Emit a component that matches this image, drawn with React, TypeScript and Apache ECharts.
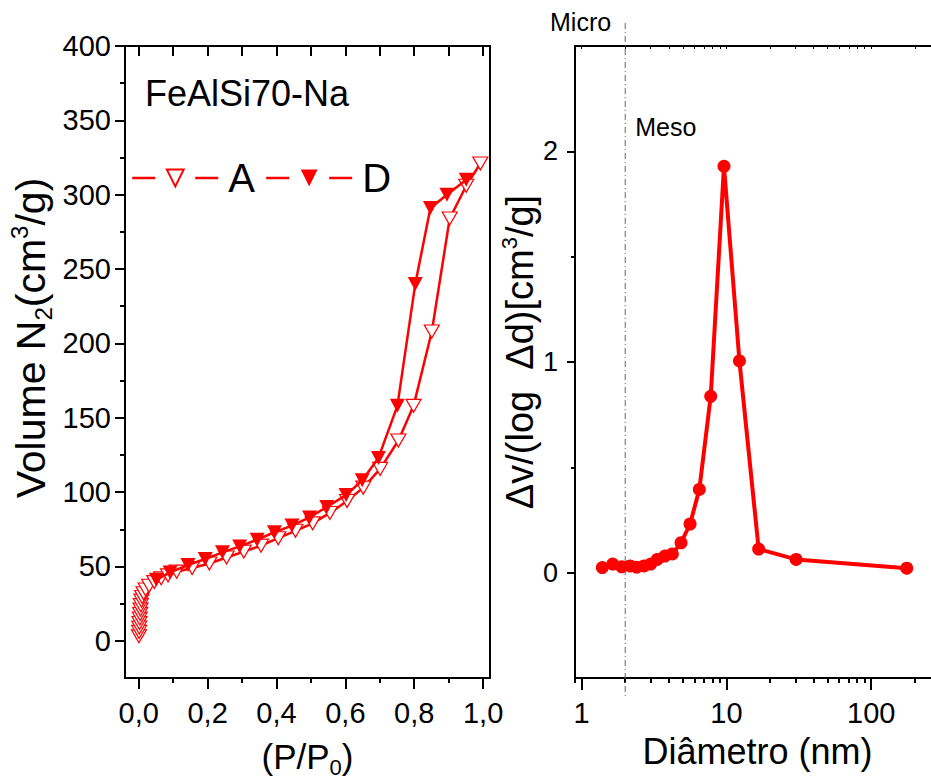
import React, { useEffect, useRef } from 'react';
import * as echarts from 'echarts';

const FONT = 'Liberation Sans, Arial, Helvetica, sans-serif';

// Left panel: N2 isotherm (relative pressure P/P0, volume cm3/g)
const adsorptionA: [number, number][] = [
  [0.0005, 3], [0.001, 6], [0.0015, 9], [0.002, 12], [0.003, 15], [0.004, 18],
  [0.005, 21], [0.006, 24], [0.008, 27], [0.01, 29.5], [0.014, 32], [0.02, 34.5],
  [0.03, 37], [0.045, 39.5], [0.065, 42], [0.085, 44], [0.11, 46.5], [0.155, 49],
  [0.205, 52], [0.255, 56], [0.305, 60], [0.355, 64], [0.405, 69], [0.455, 74],
  [0.505, 79], [0.555, 86], [0.605, 94], [0.652, 103], [0.701, 115.6], [0.754, 134.7],
  [0.798, 158], [0.851, 208], [0.903, 284], [0.951, 306], [0.992, 321],
];
const desorptionD: [number, number][] = [
  [0.951, 310], [0.895, 300], [0.847, 291], [0.803, 240], [0.751, 158], [0.696, 123],
  [0.649, 108], [0.602, 98], [0.546, 90], [0.496, 83], [0.445, 77.5], [0.394, 73],
  [0.344, 68], [0.293, 63.5], [0.243, 59.5], [0.193, 55], [0.143, 51], [0.091, 46],
  [0.051, 41],
];
const leftXTicks = [0, 0.2, 0.4, 0.6, 0.8, 1.0];
const leftXMinor = [0.1, 0.3, 0.5, 0.7, 0.9];
const leftXTop = [0, 0.1, 0.2, 0.3, 0.4, 0.5, 0.6, 0.7, 0.8, 0.9, 1.0];
const leftYTicks = [0, 50, 100, 150, 200, 250, 300, 350, 400];
const leftYMinor = [25, 75, 125, 175, 225, 275, 325, 375];

// Right panel: pore size distribution
const poreDiameter = [1.39, 1.64, 1.89, 2.16, 2.4, 2.7, 3.0, 3.33, 3.76, 4.23, 4.86, 5.61, 6.5, 7.79, 9.62, 12.3, 16.7, 30.3, 176];
const poreDistribution = [0.024, 0.041, 0.028, 0.032, 0.026, 0.032, 0.041, 0.063, 0.079, 0.089, 0.142, 0.231, 0.395, 0.837, 1.929, 1.005, 0.112, 0.063, 0.021];
const rightXTicks = [1, 10, 100];
const rightXMinor = [0.9, 2, 3, 4, 5, 6, 7, 8, 9, 20, 30, 40, 50, 60, 70, 80, 90, 200, 300, 400, 500, 600, 700, 800, 900];
const rightYTicks = [0, 1, 2];
const rightYMinor = [0.5, 1.5];
const microMesoLimit = 2;

const lg = (v: number) => Math.log10(v);
const black = { color: '#000', width: 2 };

export default function App() {
  const ref = useRef<HTMLDivElement>(null);
  useEffect(() => {
    if (!ref.current) return;
    const chart = echarts.init(ref.current, undefined, { renderer: 'svg' });
    const labelStyle = { color: '#000', fontFamily: FONT, fontSize: 29 };
    const option: any = {
      animation: false,
      backgroundColor: '#fff',
      title: {
        text: 'FeAlSi70-Na', left: 145, top: 75, padding: 0,
        textStyle: { fontSize: 36, fontWeight: 'normal', color: '#000', fontFamily: FONT },
      },
      legend: {
        data: ['A', 'D'], left: 131, top: 158, padding: 0,
        itemWidth: 86, itemHeight: 21, itemGap: 10,
        lineStyle: { type: [23, 40], width: 2.5 },
        textStyle: { fontSize: 40, color: '#000', fontFamily: FONT, padding: [0, 0, 0, 5] },
      },
      grid: [
        { left: 125, top: 46, width: 365, height: 632, outerBoundsMode: 'none' },
        { left: 575, top: 46, width: 441, height: 632, outerBoundsMode: 'none' },
      ],
      xAxis: [
        {
          type: 'value', gridIndex: 0, position: 'bottom', min: -0.04, max: 1.02,
          axisLine: { show: true, onZero: false, lineStyle: black },
          axisTick: { show: true, customValues: leftXTicks, length: 11, lineStyle: black },
          axisLabel: { customValues: leftXTicks, margin: 20, ...labelStyle, formatter: (v: number) => v.toFixed(1).replace('.', ',') },
          splitLine: { show: false },
          name: '{b|(P/P}{sub|0}{b|)}', nameLocation: 'middle', nameGap: 56,
          nameTextStyle: {
            rich: {
              b: { fontSize: 35, lineHeight: 44, fontFamily: FONT, color: '#000' },
              sub: { fontSize: 22, lineHeight: 18, verticalAlign: 'bottom', fontFamily: FONT, color: '#000' },
            },
          },
        },
        {
          type: 'value', gridIndex: 0, position: 'bottom', min: -0.04, max: 1.02,
          axisLine: { show: false, onZero: false },
          axisTick: { show: true, customValues: leftXMinor, length: 5, lineStyle: black },
          axisLabel: { show: false }, splitLine: { show: false },
        },
        {
          type: 'value', gridIndex: 0, position: 'top', min: -0.04, max: 1.02,
          axisLine: { show: true, onZero: false, lineStyle: black },
          axisTick: { show: true, inside: true, customValues: leftXTop, length: 10, lineStyle: black },
          axisLabel: { show: false }, splitLine: { show: false },
        },
        {
          type: 'value', gridIndex: 1, position: 'bottom', min: lg(0.9), max: 3,
          axisLine: { show: true, onZero: false, lineStyle: black },
          axisTick: { show: true, customValues: rightXTicks.map(lg), length: 12, lineStyle: black },
          axisLabel: { customValues: rightXTicks.map(lg), margin: 20, ...labelStyle, formatter: (v: number) => String(Math.round(Math.pow(10, v))) },
          splitLine: { show: false },
          name: 'Diâmetro (nm)', nameLocation: 'middle', nameGap: 50,
          nameTextStyle: { fontSize: 36, lineHeight: 40, fontFamily: FONT, color: '#000', padding: [0, 76, 0, 0] },
        },
        {
          type: 'value', gridIndex: 1, position: 'bottom', min: lg(0.9), max: 3,
          axisLine: { show: false, onZero: false },
          axisTick: { show: true, customValues: rightXMinor.map(lg), length: 5, lineStyle: black },
          axisLabel: { show: false }, splitLine: { show: false },
        },
        {
          type: 'value', gridIndex: 1, position: 'top', min: lg(0.9), max: 3,
          axisLine: { show: true, onZero: false, lineStyle: black },
          axisTick: { show: true, inside: true, customValues: rightXMinor.concat(rightXTicks).map(lg), length: 3, lineStyle: { color: '#000', width: 1 } },
          axisLabel: { show: false }, splitLine: { show: false },
        },
      ],
      yAxis: [
        {
          type: 'value', gridIndex: 0, position: 'left', min: -25, max: 400,
          axisLine: { show: true, onZero: false, lineStyle: black },
          axisTick: { show: true, customValues: leftYTicks, length: 10, lineStyle: black },
          axisLabel: { customValues: leftYTicks, margin: 14, ...labelStyle },
          splitLine: { show: false },
          name: '{b|Volume N}{sub|2}{b|(cm}{sup|3}{b|/g)}', nameLocation: 'middle', nameGap: 70,
          nameTextStyle: {
            padding: [0, 0, 0, 48],
            rich: {
              b: { fontSize: 41, lineHeight: 48, fontFamily: FONT, color: '#000' },
              sub: { fontSize: 24, lineHeight: 20, verticalAlign: 'bottom', fontFamily: FONT, color: '#000' },
              sup: { fontSize: 24, lineHeight: 14, verticalAlign: 'top', fontFamily: FONT, color: '#000' },
            },
          },
        },
        {
          type: 'value', gridIndex: 0, position: 'left', min: -25, max: 400,
          axisLine: { show: false, onZero: false },
          axisTick: { show: true, customValues: leftYMinor, length: 5, lineStyle: black },
          axisLabel: { show: false }, splitLine: { show: false },
        },
        {
          type: 'value', gridIndex: 0, position: 'right', min: -25, max: 400,
          axisLine: { show: true, onZero: false, lineStyle: black },
          axisTick: { show: false }, axisLabel: { show: false }, splitLine: { show: false },
        },
        {
          type: 'value', gridIndex: 1, position: 'left', min: -0.5, max: 2.5,
          axisLine: { show: true, onZero: false, lineStyle: black },
          axisTick: { show: true, customValues: rightYTicks, length: 8, lineStyle: black },
          axisLabel: { customValues: rightYTicks, margin: 17, ...labelStyle, fontSize: 27 },
          splitLine: { show: false },
          name: '{b|Δv/(log  Δd)[cm}{sup|3}{b|/g]}', nameLocation: 'middle', nameGap: 28,
          nameTextStyle: {
            padding: [0, 0, 0, 20],
            rich: {
              b: { fontSize: 38, lineHeight: 44, fontFamily: FONT, color: '#000' },
              sup: { fontSize: 22, lineHeight: 14, verticalAlign: 'top', fontFamily: FONT, color: '#000' },
            },
          },
        },
        {
          type: 'value', gridIndex: 1, position: 'left', min: -0.5, max: 2.5,
          axisLine: { show: false, onZero: false },
          axisTick: { show: true, customValues: rightYMinor, length: 4, lineStyle: black },
          axisLabel: { show: false }, splitLine: { show: false },
        },
      ],
      series: [
        {
          type: 'line', name: 'A', xAxisIndex: 0, yAxisIndex: 0, data: adsorptionA,
          symbol: 'triangle', symbolRotate: 180, symbolSize: [15, 13],
          itemStyle: { color: '#fff', borderColor: '#ff0000', borderWidth: 1.2 },
          lineStyle: { color: '#ff0000', width: 2.5 },
          emphasis: { disabled: true }, z: 2,
        },
        {
          type: 'line', name: 'D', xAxisIndex: 0, yAxisIndex: 0, data: desorptionD,
          symbol: 'triangle', symbolRotate: 180, symbolSize: [15, 14],
          itemStyle: { color: '#ff0000' },
          lineStyle: { color: '#ff0000', width: 2.5 },
          emphasis: { disabled: true }, z: 3,
        },
        {
          type: 'line', name: 'PSD', xAxisIndex: 3, yAxisIndex: 3,
          data: poreDiameter.map((d, i) => [lg(d), poreDistribution[i]]),
          symbol: 'circle', symbolSize: 13,
          itemStyle: { color: '#ff0000' },
          lineStyle: { color: '#ff0000', width: 4 },
          emphasis: { disabled: true }, z: 3,
        },
      ],
    };
    chart.setOption(option);
    const lx = chart.convertToPixel({ xAxisIndex: 3 } as any, lg(microMesoLimit)) as number;
    chart.setOption({
      graphic: [
        {
          type: 'line', z: 1, silent: true,
          shape: { x1: lx, y1: 23, x2: lx, y2: 697 },
          style: { stroke: '#666', lineWidth: 1, lineDash: [6, 3, 1, 3] },
        },
        {
          type: 'text', x: 550, y: 22, silent: true,
          style: { text: 'Micro', fontSize: 25, fontFamily: FONT, fill: '#000', verticalAlign: 'middle', align: 'left' },
        },
        {
          type: 'text', x: lx + 10, y: 127, silent: true,
          style: { text: 'Meso', fontSize: 25, fontFamily: FONT, fill: '#000', verticalAlign: 'middle', align: 'left' },
        },
      ],
    });
    return () => chart.dispose();
  }, []);
  return <div ref={ref} style={{ position: 'absolute', left: 0, top: 0, width: 931, height: 783 }} />;
}
